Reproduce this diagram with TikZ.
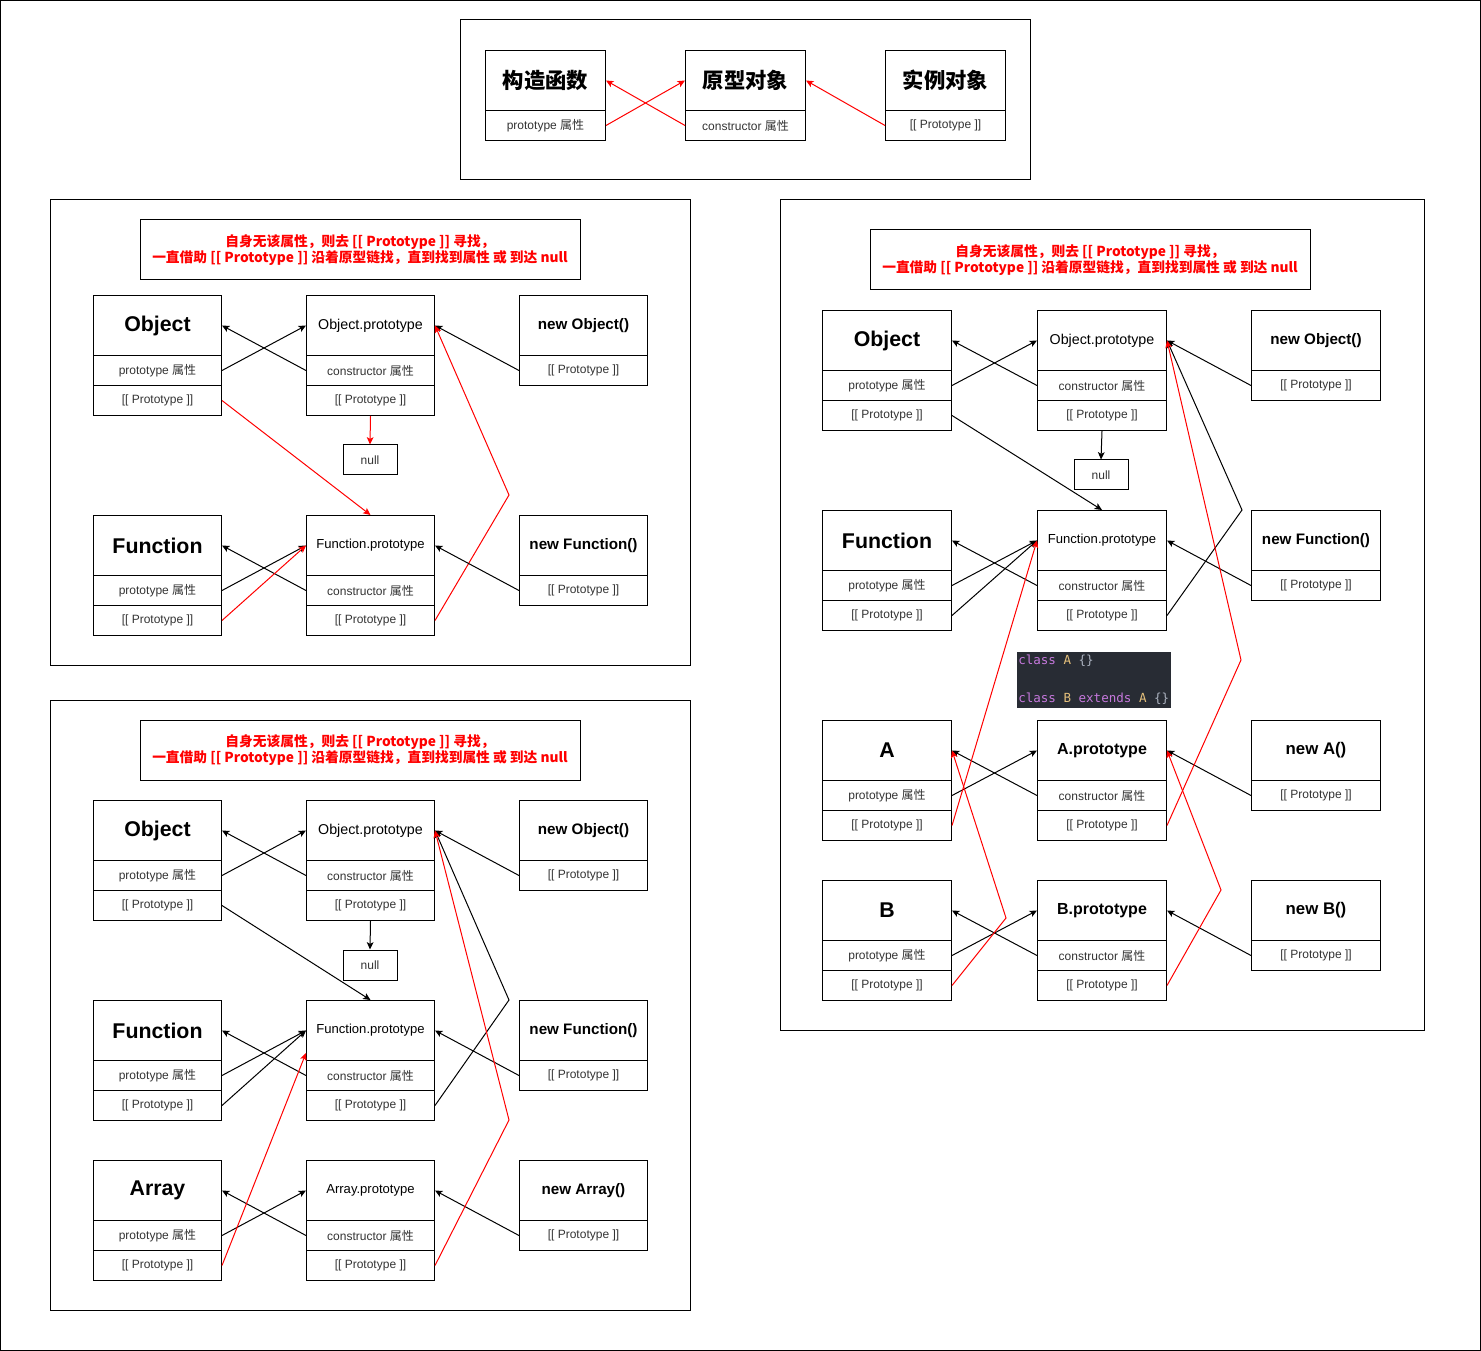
\documentclass[tikz,border=0pt]{standalone}
\usepackage{fontspec}
\setmainfont{Liberation Sans}
\newfontfamily\cjk{Noto Sans CJK SC}
\setmonofont{DejaVu Sans Mono}
\usetikzlibrary{arrows.meta,calc}
\definecolor{cred}{HTML}{FF0000}
\definecolor{ctext}{HTML}{333333}
\definecolor{codebg}{HTML}{282C34}
\definecolor{cpurple}{HTML}{C678DD}
\definecolor{cyellow}{HTML}{E5C07B}
\definecolor{cgrey}{HTML}{ABB2BF}
\def\px{0.75pt}
\newcommand\Ttl{\fontsize{16}{19}\selectfont\bfseries}
\newcommand\SubL{\fontsize{10.7}{13}\selectfont}
\newcommand\SubS{\fontsize{9.8}{12}\selectfont}
\newcommand\NewT{\fontsize{11.4}{13}\selectfont\bfseries}
\newcommand\MidT{\fontsize{12}{14}\selectfont\bfseries}
\newcommand\NewM{\fontsize{12.6}{14}\selectfont\bfseries}
\newcommand\PA{prototype {\cjk 属性}}
\newcommand\CA{constructor {\cjk 属性}}
\newcommand\PP{[[ Prototype ]]}
\tikzset{
  hdr/.style={draw, line width=0.75pt, inner sep=0pt, minimum height=60*\px, anchor=north west},
  rowbox/.style={draw, line width=0.75pt, inner sep=0pt, minimum height=30*\px, anchor=north west,
     text=ctext, font=\fontsize{9}{11}\selectfont},
  nullbox/.style={draw, line width=0.75pt, inner sep=0pt, minimum width=54*\px, minimum height=30*\px,
     text=ctext, font=\fontsize{9}{11}\selectfont},
  notebox/.style={draw, line width=0.75pt, inner sep=0pt, minimum width=440*\px, minimum height=60*\px,
     align=center, text=cred, font=\fontsize{10.3}{12.6}\cjk\bfseries},
  panel/.style={draw, line width=0.75pt},
  arr/.style={-{Stealth[length=5.5pt,width=5pt,inset=1.3pt]}, line width=0.75pt},
  rarr/.style={arr, draw=cred, color=cred},
}
\newcommand\twobox[7]{%
  \node[hdr, minimum width=#4*\px] (#1) at (#2,#3) {#5};
  \node[rowbox, minimum width=#4*\px] (#1-a) at (#2,#3+60) {#6};
  \node[rowbox, minimum width=#4*\px] (#1-b) at (#2,#3+90) {#7};}
\newcommand\onebox[6]{%
  \node[hdr, minimum width=#4*\px] (#1) at (#2,#3) {#5};
  \node[rowbox, minimum width=#4*\px] (#1-a) at (#2,#3+60) {#6};}
\begin{document}
\begin{tikzpicture}[x=0.75pt,y=-0.75pt]
\useasboundingbox (0,0) rectangle (1481,1351);
\draw[panel] (0.5,0.5) rectangle (1480.5,1350.5);
% panels
\draw[panel] (460,20) rectangle (1030,180);
\draw[panel] (50,200) rectangle (690,665);
\draw[panel] (50,700) rectangle (690,1310);
\draw[panel] (780,200) rectangle (1424,1030);

% ---------- top ----------
\onebox{tC}{485}{50}{120}{\fontsize{16}{19}\cjk\bfseries 构造函数}{\PA}
\onebox{tP}{685}{50}{120}{\fontsize{16}{19}\cjk\bfseries 原型对象}{\CA}
\onebox{tI}{885}{50}{120}{\fontsize{16}{19}\cjk\bfseries 实例对象}{\PP}
\draw[rarr] (tC-a.east) -- (tP.west);
\draw[rarr] (tP-a.west) -- (tC.east);
\draw[rarr] (tI-a.west) -- (tP.east);

% ---------- panel 1 ----------
\node[notebox] (p1note) at (360,250) {自身无该属性，则去 [[ Prototype ]] 寻找，\\一直借助 [[ Prototype ]] 沿着原型链找，直到找到属性 或 到达 null};
\twobox{p1O}{93}{295}{128}{\Ttl Object}{\PA}{\PP}
\twobox{p1OP}{306}{295}{128}{\SubL Object.prototype}{\CA}{\PP}
\onebox{p1NO}{519}{295}{128}{\NewT new Object()}{\PP}
\node[nullbox] (p1null) at (370,460) {null};
\twobox{p1F}{93}{515}{128}{\Ttl Function}{\PA}{\PP}
\twobox{p1FP}{306}{515}{128}{\SubS Function.prototype}{\CA}{\PP}
\onebox{p1NF}{519}{515}{128}{\NewT new Function()}{\PP}
\coordinate (p1w) at (509,495);
\draw[arr] (p1O-a.east) -- (p1OP.west);
\draw[arr] (p1OP-a.west) -- (p1O.east);
\draw[arr] (p1NO-a.west) -- (p1OP.east);
\draw[rarr] (p1OP-b.south) -- (p1null.north);
\draw[rarr] (p1O-b.east) -- (p1FP.north);
\draw[rarr] (p1FP-b.east) -- (p1w) -- (p1OP.east);
\draw[arr] (p1F-a.east) -- (p1FP.west);
\draw[arr] (p1FP-a.west) -- (p1F.east);
\draw[rarr] (p1F-b.east) -- (p1FP.west);
\draw[arr] (p1NF-a.west) -- (p1FP.east);

% ---------- panel 2 ----------
\node[notebox] (p2note) at (360,750) {自身无该属性，则去 [[ Prototype ]] 寻找，\\一直借助 [[ Prototype ]] 沿着原型链找，直到找到属性 或 到达 null};
\twobox{p2O}{93}{800}{128}{\Ttl Object}{\PA}{\PP}
\twobox{p2OP}{306}{800}{128}{\SubL Object.prototype}{\CA}{\PP}
\onebox{p2NO}{519}{800}{128}{\NewT new Object()}{\PP}
\node[nullbox] (p2null) at (370,965) {null};
\twobox{p2F}{93}{1000}{128}{\Ttl Function}{\PA}{\PP}
\twobox{p2FP}{306}{1000}{128}{\SubS Function.prototype}{\CA}{\PP}
\onebox{p2NF}{519}{1000}{128}{\NewT new Function()}{\PP}
\twobox{p2A}{93}{1160}{128}{\Ttl Array}{\PA}{\PP}
\twobox{p2AP}{306}{1160}{128}{\SubS Array.prototype}{\CA}{\PP}
\onebox{p2NA}{519}{1160}{128}{\NewT new Array()}{\PP}
\coordinate (p2w1) at (509,1000);
\coordinate (p2w2) at (509,1120);
\draw[arr] (p2O-a.east) -- (p2OP.west);
\draw[arr] (p2OP-a.west) -- (p2O.east);
\draw[arr] (p2NO-a.west) -- (p2OP.east);
\draw[arr] (p2OP-b.south) -- (p2null.north);
\draw[arr] (p2O-b.east) -- (p2FP.north);
\draw[arr] (p2F-a.east) -- (p2FP.west);
\draw[arr] (p2FP-a.west) -- (p2F.east);
\draw[arr] (p2F-b.east) -- (p2FP.west);
\draw[arr] (p2NF-a.west) -- (p2FP.east);
\draw[arr] (p2FP-b.east) -- (p2w1) -- (p2OP.east);
\draw[arr] (p2A-a.east) -- (p2AP.west);
\draw[arr] (p2AP-a.west) -- (p2A.east);
\draw[arr] (p2NA-a.west) -- (p2AP.east);
\draw[rarr] (p2A-b.east) -- ([yshift=6pt]p2FP.south west);
\draw[rarr] (p2AP-b.east) -- (p2w2) -- (p2OP.east);

% ---------- panel 3 ----------
\node[notebox] (p3note) at (1090,260) {自身无该属性，则去 [[ Prototype ]] 寻找，\\一直借助 [[ Prototype ]] 沿着原型链找，直到找到属性 或 到达 null};
\twobox{p3O}{822}{310}{129}{\Ttl Object}{\PA}{\PP}
\twobox{p3OP}{1037}{310}{129}{\SubL Object.prototype}{\CA}{\PP}
\onebox{p3NO}{1251}{310}{129}{\NewT new Object()}{\PP}
\node[nullbox] (p3null) at (1101,475) {null};
\twobox{p3F}{822}{510}{129}{\Ttl Function}{\PA}{\PP}
\twobox{p3FP}{1037}{510}{129}{\SubS Function.prototype}{\CA}{\PP}
\onebox{p3NF}{1251}{510}{129}{\NewT new Function()}{\PP}
\node[fill=codebg, inner sep=0pt, minimum width=154*\px, minimum height=56*\px, anchor=north west] (code) at (1017,652) {};
\node[anchor=west, inner sep=0pt, font=\ttfamily\fontsize{9.4}{11}\selectfont] (code1) at (1018,661)
  {\textcolor{cpurple}{class} \textcolor{cyellow}{A} \textcolor{cgrey}{\{\}}};
\node[anchor=west, inner sep=0pt, font=\ttfamily\fontsize{9.4}{11}\selectfont] (code2) at (1018,699)
  {\textcolor{cpurple}{class} \textcolor{cyellow}{B} \textcolor{cpurple}{extends} \textcolor{cyellow}{A} \textcolor{cgrey}{\{\}}};
\twobox{p3A}{822}{720}{129}{\Ttl A}{\PA}{\PP}
\twobox{p3AP}{1037}{720}{129}{\MidT A.prototype}{\CA}{\PP}
\onebox{p3NA}{1251}{720}{129}{\NewM new A()}{\PP}
\twobox{p3B}{822}{880}{129}{\Ttl B}{\PA}{\PP}
\twobox{p3BP}{1037}{880}{129}{\MidT B.prototype}{\CA}{\PP}
\onebox{p3NB}{1251}{880}{129}{\NewM new B()}{\PP}
\coordinate (p3w1) at (1242,510);
\coordinate (p3w2) at (1241,660);
\coordinate (p3w3) at (1006,918);
\coordinate (p3w4) at (1221,890);
\draw[arr] (p3O-a.east) -- (p3OP.west);
\draw[arr] (p3OP-a.west) -- (p3O.east);
\draw[arr] (p3NO-a.west) -- (p3OP.east);
\draw[arr] (p3OP-b.south) -- (p3null.north);
\draw[arr] (p3O-b.east) -- (p3FP.north);
\draw[arr] (p3F-a.east) -- (p3FP.west);
\draw[arr] (p3FP-a.west) -- (p3F.east);
\draw[arr] (p3F-b.east) -- (p3FP.west);
\draw[arr] (p3NF-a.west) -- (p3FP.east);
\draw[arr] (p3FP-b.east) -- (p3w1) -- (p3OP.east);
\draw[arr] (p3A-a.east) -- (p3AP.west);
\draw[arr] (p3AP-a.west) -- (p3A.east);
\draw[arr] (p3NA-a.west) -- (p3AP.east);
\draw[arr] (p3B-a.east) -- (p3BP.west);
\draw[arr] (p3BP-a.west) -- (p3B.east);
\draw[arr] (p3NB-a.west) -- (p3BP.east);
\draw[rarr] (p3A-b.east) -- (p3FP.west);
\draw[rarr] (p3AP-b.east) -- (p3w2) -- (p3OP.east);
\draw[rarr] (p3B-b.east) -- (p3w3) -- (p3A.east);
\draw[rarr] (p3BP-b.east) -- (p3w4) -- (p3AP.east);
\end{tikzpicture}
\end{document}
